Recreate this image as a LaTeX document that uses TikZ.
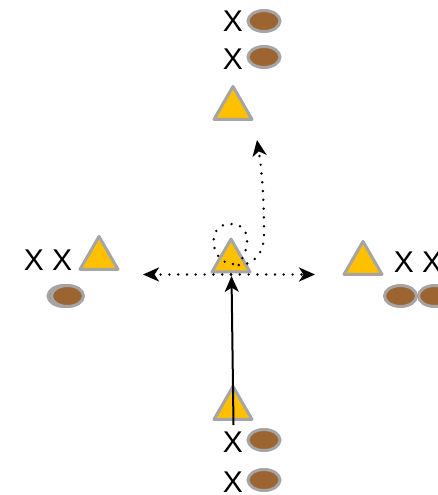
\documentclass[tikz,border=0pt]{standalone}
\usepackage{fontspec}
\setmainfont{Liberation Sans}
\usetikzlibrary{shapes.geometric,arrows.meta}
\definecolor{gold}{HTML}{FFC000}
\definecolor{rim}{HTML}{A5A5A5}
\definecolor{ball}{HTML}{9C6431}
\tikzset{
  tri/.style={regular polygon, regular polygon sides=3, minimum size=43.9pt, inner sep=0pt, outer sep=0pt,
    fill=gold, draw=rim, line width=3pt, line join=round},
  bal/.style={ellipse, minimum width=32pt, minimum height=21pt, inner sep=0pt, fill=ball, draw=rim, line width=3pt},
  xl/.style={anchor=base, inner sep=0pt, font=\fontsize{30}{36}\selectfont},
  tip/.style={-{Stealth[length=16pt,width=14pt,inset=4.5pt]}},
  dots/.style={tip, line width=2.7pt, line cap=round, dash pattern=on 0pt off 8.8pt},
  solidarrow/.style={tip, line width=2pt}
}
\begin{document}
\begin{tikzpicture}[x=1pt,y=-1pt]
\useasboundingbox (0,0) rectangle (438,495);
% top
\node[xl] (xt1) at (233,32) {X};
\node[bal] (bt1) at (264,21) {};
\node[xl] (xt2) at (233,70) {X};
\node[bal] (bt2) at (264,57) {};
\node[tri] (tt) at (233,108.4) {};
% left
\node[xl] (xl) at (48,270) {X X};
\node[tri] (tl) at (99,258.4) {};
\node[bal] (bl0) at (64,296) {};
\node[bal] (bl) at (67.5,296) {};
% right
\node[tri] (tr) at (363,263.4) {};
\node[xl] (xr) at (418,272) {X X};
\node[bal] (br1) at (400.5,296) {};
\node[bal] (br2) at (434.5,296) {};
% center
\node[tri] (tc) at (231,261) {};
% bottom
\node[tri] (tb) at (233,408.4) {};
\node[xl] (xb1) at (233,452) {X};
\node[bal] (bb1) at (264,440) {};
\node[xl] (xb2) at (233,492) {X};
\node[bal] (bb2) at (264,480) {};
% connectors
\coordinate (c) at (231,274.5);
\coordinate (cl) at (143,274.5);
\coordinate (cr) at (315,274.5);
\coordinate (up) at (257,140);
\coordinate (s) at (233,264);
\coordinate (bs) at (233.5,425);
\coordinate (be) at (231.5,276);
\draw[dots] (c) -- (cl);
\draw[dots] (c) -- (cr);
\draw[dots] (s) .. controls (211,264) and (205,225) .. (229,224)
  .. controls (253,223) and (250,250) .. (238,265)
  .. controls (248,266) and (264,258) .. (264,235)
  .. controls (264,190) and (261,165) .. (up);
\draw[solidarrow] (bs) -- (be);
\end{tikzpicture}
\end{document}
